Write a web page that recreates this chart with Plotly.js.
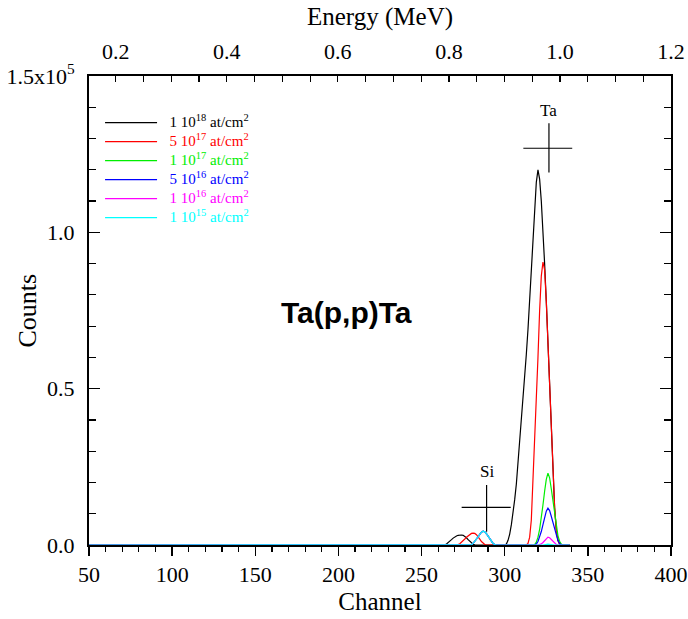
<!DOCTYPE html>
<html>
<head>
<meta charset="utf-8">
<script src="https://cdn.plot.ly/plotly-3.0.1.min.js"></script>
<style>html,body{margin:0;padding:0;background:#fff;}#chart{width:688px;height:619px;}</style>
</head>
<body>
<div id="chart"></div>
<script>
// ---- data ----
const seriesNames = [
  "1 10<sup>18</sup> at/cm<sup>2</sup>",
  "5 10<sup>17</sup> at/cm<sup>2</sup>",
  "1 10<sup>17</sup> at/cm<sup>2</sup>",
  "5 10<sup>16</sup> at/cm<sup>2</sup>",
  "1 10<sup>16</sup> at/cm<sup>2</sup>",
  "1 10<sup>15</sup> at/cm<sup>2</sup>"
];
const seriesColors = ["#000000", "#ff0000", "#00ee00", "#0000ff", "#ff00ff", "#00ffff"];

const ch1e18 = [50,
  263,264,265,266,267,268,269,270,271,272,273,274,275,276,277,278,279,280,281,282,283,
  300,301,302,303,304,305,306,307,308,309,310,311,312,313,314,315,316,317,318,319,320,
  321,322,323,324,325,326,327,328,329,330,331,332,333,334, 339];
const cnt1e18 = [0,
  0,100,300,700,1200,1700,2200,2600,2900,3100,3200,3200,3100,2800,2300,1700,1100,600,250,50,0,
  0,300,1500,3500,6500,10000,14500,19500,26000,33000,40000,47000,54000,61000,69000,79000,90000,100000,109000,116000,120000,
  117000,110000,101000,90000,78000,64000,50000,36000,23000,12000,5000,1500,300,0, 0];

const ch5e17 = [50,
  271,272,273,274,275,276,277,278,279,280,281,282,283,284,285,286,287,288,289,
  313,314,315,316,317,318,319,320,321,322,323,324,325,326,327,328,329,330,331,332,333,334, 339];
const cnt5e17 = [0,
  0,150,400,800,1300,1900,2500,3000,3400,3700,3800,3700,3300,2700,1900,1100,500,150,0,
  0,500,2500,8000,20000,33000,45000,60000,75000,86000,90500,88000,78000,64000,50000,36000,23000,12000,5000,1500,300,0, 0];

const chSiThin = [279,280,281,282,283,284,285,286,287,288,289,290,291,292,293,294,295];
const cntSiThin = [0,100,500,1100,1800,2600,3400,4100,4400,4200,3600,2800,1900,1100,500,150,0];

const ch1e17 = [50].concat(chSiThin, [317,318,319,320,321,322,323,324,325,326,327,328,329,330,331,332,333,334,335, 339]);
const cnt1e17 = [0].concat(cntSiThin, [0,150,900,2500,5000,8500,12800,17200,21000,23000,21500,18000,13800,9500,5800,3000,1200,300,0, 0]);

const ch5e16 = [50].concat(chSiThin, [318,319,320,321,322,323,324,325,326,327,328,329,330,331,332,333,334,335, 339]);
const cnt5e16 = [0].concat(cntSiThin, [0,300,1100,2400,4300,6500,8800,10800,11800,11000,9200,7000,4800,2900,1400,500,100,0, 0]);

const ch1e16 = [50].concat(chSiThin, [320,321,322,323,324,325,326,327,328,329,330,331,332, 339]);
const cnt1e16 = [0].concat(cntSiThin, [0,100,350,800,1400,2100,2500,2300,1700,1000,450,150,0, 0]);

const ch1e15 = [50].concat(chSiThin, [323,324,325,326,327,328,329,330, 339]);
const cnt1e15 = [0].concat(cntSiThin, [0,120,220,260,230,150,60,0, 0]);

const channelsList = [ch1e18, ch5e17, ch1e17, ch5e16, ch1e16, ch1e15];
const countsList = [cnt1e18, cnt5e17, cnt1e17, cnt5e16, cnt1e16, cnt1e15];

// axis tick labels
const yTickVals = [0, 50000, 100000, 150000];
const yTickText = ["0.0", "0.5", "1.0", "1.5x10<sup>5</sup>"];
const energyTickVals = [0.2, 0.4, 0.6, 0.8, 1.0, 1.2];
const energyTickText = ["0.2", "0.4", "0.6", "0.8", "1.0", "1.2"];
const energyMinorVals = [0.15,0.25,0.3,0.35,0.45,0.5,0.55,0.65,0.7,0.75,0.85,0.9,0.95,1.05,1.1,1.15];
const energyRange = [0.1518, 1.2];
const channelRange = [50, 400];
const countsRange = [0, 150000];

// element markers (surface positions)
const taMark = {ch: 326.6, cnt: 126900, x0: 311.2, x1: 340.6, y0: 119100, y1: 134900, label: 138900};
const siMark = {ch: 289.1, cnt: 12050, x0: 274.1, x1: 303.6, y0: 4250, y1: 19200, label: 23400};

// ---- traces ----
const traces = channelsList.map((chs, i) => ({
  x: chs, y: countsList[i], type: "scatter", mode: "lines",
  name: "<span style='color:" + seriesColors[i] + ";font-size:15px'>&nbsp;&nbsp;" + seriesNames[i] + "</span>",
  line: {color: seriesColors[i], width: 1.2}
}));
// energy axis (top) carries no marks; an empty trace makes Plotly draw it
traces.push({x: [], y: [], xaxis: "x2", yaxis: "y", type: "scatter", mode: "lines", showlegend: false, hoverinfo: "skip"});

const serif = "'Liberation Serif', 'Times New Roman', serif";
const layout = {
  width: 688, height: 619,
  margin: {l: 89, r: 17, t: 76, b: 74, pad: 0},
  paper_bgcolor: "#fff", plot_bgcolor: "#fff",
  showlegend: true,
  legend: {
    x: 0.019, y: 0.9315, xanchor: "left", yanchor: "top",
    bgcolor: "rgba(0,0,0,0)", borderwidth: 0,
    font: {family: serif, size: 12, color: "#000"},
    itemwidth: 52, tracegroupgap: 0
  },
  xaxis: {
    range: channelRange, tick0: 50, dtick: 50,
    ticks: "outside", ticklen: 9, tickwidth: 1.5, tickcolor: "#000",
    minor: {dtick: 10, ticks: "outside", ticklen: 5, tickwidth: 1.2, tickcolor: "#000"},
    showline: true, linecolor: "#000", linewidth: 2, mirror: false,
    showgrid: false, zeroline: false,
    tickfont: {family: serif, size: 22, color: "#000"},
    title: {text: "Channel", font: {family: serif, size: 25, color: "#000"}, standoff: 6}
  },
  xaxis2: {
    range: energyRange, overlaying: "x", side: "top", anchor: "y",
    tickvals: energyTickVals, ticktext: energyTickText,
    ticks: "inside", ticklen: 6, tickwidth: 1.2, tickcolor: "#000",
    minor: {tickvals: energyMinorVals, ticks: "inside", ticklen: 6, tickwidth: 1.2, tickcolor: "#000"},
    showline: true, linecolor: "#000", linewidth: 2,
    showgrid: false, zeroline: false,
    ticklabelstandoff: 6,
    tickfont: {family: serif, size: 22, color: "#000"},
    title: {text: "Energy (MeV)", font: {family: serif, size: 25, color: "#000"}, standoff: 6}
  },
  yaxis: {
    range: countsRange, tickvals: yTickVals, ticktext: yTickText,
    ticks: "inside", ticklen: 11, tickwidth: 1.5, tickcolor: "#000",
    minor: {dtick: 10000, tick0: 0, ticks: "inside", ticklen: 7, tickwidth: 1.2, tickcolor: "#000"},
    showline: true, linecolor: "#000", linewidth: 2, mirror: "ticks",
    showgrid: false, zeroline: false,
    ticklabelstandoff: 8,
    tickfont: {family: serif, size: 22, color: "#000"}
  },
  shapes: [
    {type: "line", xref: "x", yref: "y", x0: taMark.ch, x1: taMark.ch, y0: taMark.y0, y1: taMark.y1, line: {color: "#000", width: 1.2}},
    {type: "line", xref: "x", yref: "y", x0: taMark.x0, x1: taMark.x1, y0: taMark.cnt, y1: taMark.cnt, line: {color: "#000", width: 1.2}},
    {type: "line", xref: "x", yref: "y", x0: siMark.ch, x1: siMark.ch, y0: siMark.y0, y1: siMark.y1, line: {color: "#000", width: 1.2}},
    {type: "line", xref: "x", yref: "y", x0: siMark.x0, x1: siMark.x1, y0: siMark.cnt, y1: siMark.cnt, line: {color: "#000", width: 1.2}}
  ],
  annotations: [
    {x: -0.1065, y: 0.5, xref: "paper", yref: "paper", xanchor: "center", yanchor: "middle", textangle: -90,
     text: "Counts", showarrow: false, font: {family: serif, size: 26, color: "#000"}},
    {x: taMark.ch, y: taMark.label, xref: "x", yref: "y", text: "Ta", showarrow: false, font: {family: serif, size: 17, color: "#000"}},
    {x: siMark.ch, y: siMark.label, xref: "x", yref: "y", text: "Si", showarrow: false, font: {family: serif, size: 17, color: "#000"}},
    {x: 205, y: 74350, xref: "x", yref: "y", text: "<b>Ta(p,p)Ta</b>", showarrow: false, font: {family: "'Liberation Sans', Arial, sans-serif", size: 30, color: "#000"}}
  ]
};

Plotly.newPlot("chart", traces, layout, {staticPlot: true, displayModeBar: false});
</script>
</body>
</html>
